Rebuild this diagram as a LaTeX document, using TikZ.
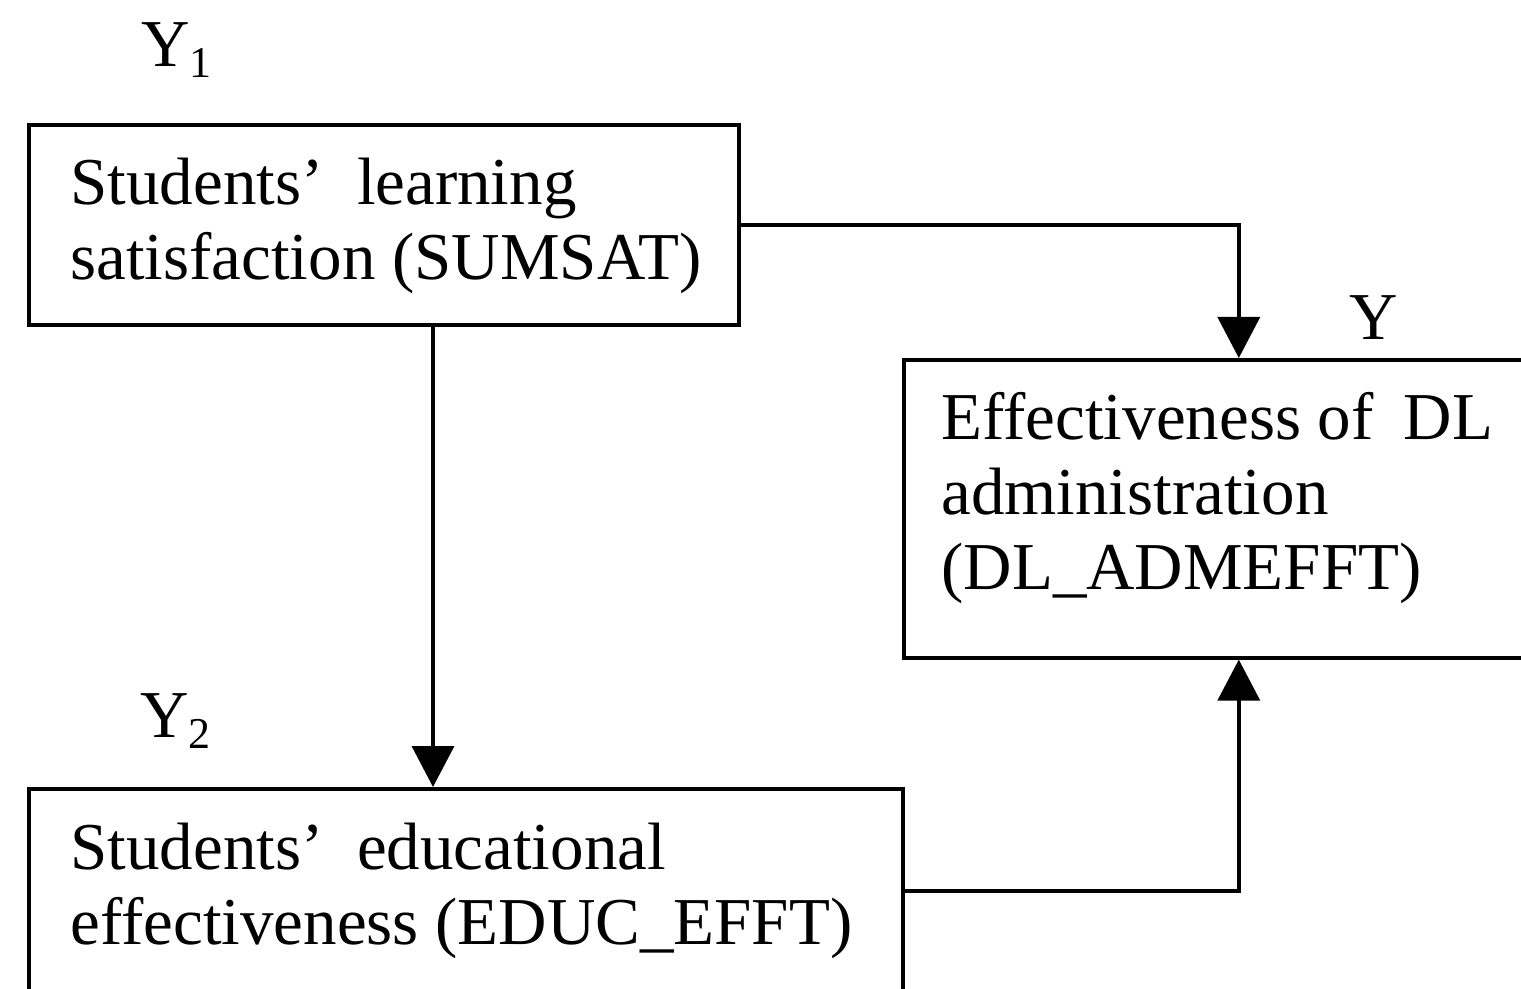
\documentclass[tikz,border=0pt]{standalone}
\usepackage{fontspec}
\setmainfont{Liberation Serif}
\usetikzlibrary{arrows.meta}
% lowered, smaller index after a variable letter
\newcommand\sublab[1]{\raisebox{-5.5pt}{\fontsize{22}{22}\selectfont #1}}
\begin{document}
\begin{tikzpicture}[x=0.5pt,y=-0.5pt,
  box/.style={draw, line width=1.8pt, rectangle, inner sep=0pt, anchor=north west},
  % multi-line texts: anchored at the baseline of their last line
  txt/.style={inner sep=0pt, anchor=base west, align=left,
              font=\fontsize{33.5}{37.5}\selectfont},
  var/.style={inner sep=0pt, anchor=base west, font=\fontsize{33.5}{37.5}\selectfont},
  arr/.style={line width=1.8pt, -{Triangle[length=20.5pt,width=21pt]}}]
\clip (0,0) rectangle (1521,989);

% boxes
\node[box, minimum width=355pt, minimum height=100pt] (sat) at (27,123) {};
\node[box, minimum width=437pt, minimum height=102pt] (educ) at (27,787) {};
\node[box, minimum width=335pt, minimum height=149pt] (adm) at (902,358) {};

% box texts
\node[txt] (satT) at (70,280) {Students’\hspace{0.5em}learning\\satisfaction (SUMSAT)};
\node[txt] (educT) at (70,944) {Students’\hspace{0.5em}educational\\effectiveness (EDUC\_EFFT)};
\node[txt] (admT) at (941,589) {Effectiveness of\hspace{0.45em}DL\\administration\\(DL\_ADMEFFT)};

% variable labels
\node[var] (y1) at (141,67) {Y\sublab{1}};
\node[var] (y2) at (140,737) {Y\sublab{2}};
\node[var] (y) at (1349,340) {Y};

% connectors
\coordinate (colA) at (433,0);
\draw[arr] (sat.south -| colA) -- (educ.north -| colA);
\draw[arr] (sat.east) -| (adm.north);
\draw[arr] (educ.east) -| (adm.south);
\end{tikzpicture}
\end{document}
